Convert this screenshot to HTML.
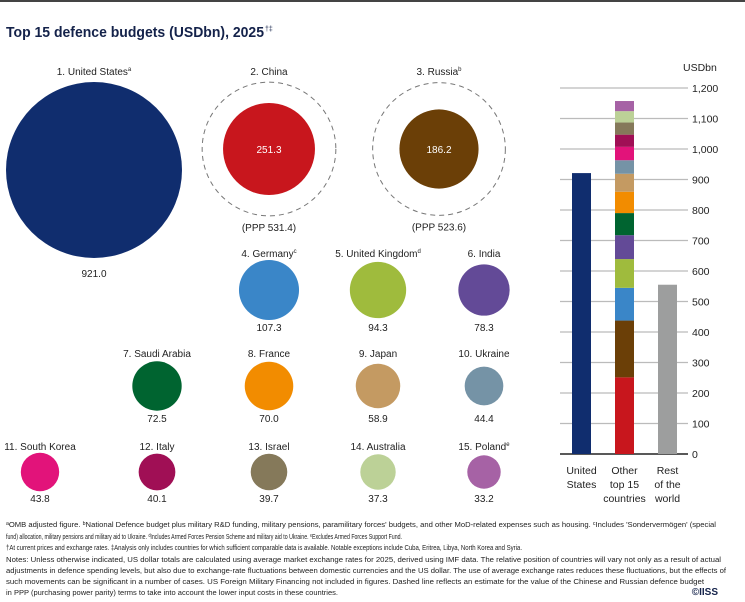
<!DOCTYPE html>
<html><head><meta charset="utf-8"><style>
body{margin:0;background:#fff;}
svg{display:block;font-family:"Liberation Sans",sans-serif;}
.lbl{font-size:10px;fill:#222;text-anchor:middle;}
.val{font-size:10px;fill:#222;text-anchor:middle;}
.note{font-size:7.6px;fill:#222;}
</style></head><body>
<svg id="chart" width="745" height="602" viewBox="0 0 745 602">
<rect x="0" y="0" width="745" height="2" fill="#444"/>
<text x="6" y="37" font-weight="bold" font-size="15" fill="#14224a" textLength="258" lengthAdjust="spacingAndGlyphs">Top 15 defence budgets (USDbn), 2025</text>
<text x="265" y="31" font-size="7" fill="#14224a">†‡</text>
<g id="bubbles"></g>
<g id="bars"></g>
<g>
<text class="note" x="6" y="527" textLength="710" lengthAdjust="spacingAndGlyphs">ᵃOMB adjusted figure. ᵇNational Defence budget plus military R&amp;D funding, military pensions, paramilitary forces' budgets, and other MoD-related expenses such as housing. ᶜIncludes 'Sondervermögen' (special</text>
<text class="note" x="6" y="539" textLength="396" lengthAdjust="spacingAndGlyphs">fund) allocation, military pensions and military aid to Ukraine. ᵈIncludes Armed Forces Pension Scheme and military aid to Ukraine. ᵉExcludes Armed Forces Support Fund.</text>
<text class="note" x="6" y="550" textLength="516" lengthAdjust="spacingAndGlyphs">†At current prices and exchange rates. ‡Analysis only includes countries for which sufficient comparable data is available. Notable exceptions include Cuba, Eritrea, Libya, North Korea and Syria.</text>
<text class="note" x="6" y="562" textLength="715" lengthAdjust="spacingAndGlyphs">Notes: Unless otherwise indicated, US dollar totals are calculated using average market exchange rates for 2025, derived using IMF data. The relative position of countries will vary not only as a result of actual</text>
<text class="note" x="6" y="573" textLength="720" lengthAdjust="spacingAndGlyphs">adjustments in defence spending levels, but also due to exchange-rate fluctuations between domestic currencies and the US dollar. The use of average exchange rates reduces these fluctuations, but the effects of</text>
<text class="note" x="6" y="584" textLength="698" lengthAdjust="spacingAndGlyphs">such movements can be significant in a number of cases. US Foreign Military Financing not included in figures. Dashed line reflects an estimate for the value of the Chinese and Russian defence budget</text>
<text class="note" x="6" y="595" textLength="332" lengthAdjust="spacingAndGlyphs">in PPP (purchasing power parity) terms to take into account the lower input costs in these countries.</text>
<text x="718" y="595" font-weight="bold" font-size="10" fill="#14224a" text-anchor="end">©IISS</text>
</g>
</svg>
<script>
const countries=["1. United States","2. China","3. Russia","4. Germany","5. United Kingdom","6. India","7. Saudi Arabia","8. France","9. Japan","10. Ukraine","11. South Korea","12. Italy","13. Israel","14. Australia","15. Poland"];
const sups=["a","","b","c","d","","","","","","","","","","e"];
const budgets=[921.0,251.3,186.2,107.3,94.3,78.3,72.5,70.0,58.9,44.4,43.8,40.1,39.7,37.3,33.2];
const pppValues=[null,531.4,523.6,null,null,null,null,null,null,null,null,null,null,null,null];
const colors=["#102d6e","#c8161d","#6b3f07","#3a86c8","#9fbb3d","#634a97","#006430","#f28c00","#c49a62","#7593a6","#e2137a","#a00f55","#85795a","#bcd197","#a662a5"];
const restOfWorld=555;
const ticks=[0,100,200,300,400,500,600,700,800,900,1000,1100,1200];

const NS="http://www.w3.org/2000/svg";
function mk(tag,attrs,parent){const e=document.createElementNS(NS,tag);for(const k in attrs)e.setAttribute(k,attrs[k]);parent.appendChild(e);return e;}
// slot layout
const cx=[94,269,439,269,378,484,157,269,378,484,40,157,269,378,484];
const row=[0,0,0,1,1,1,2,2,2,2,3,3,3,3,3];
const rowCY=[149,290,386,472];
const rowLabY=[75,257,357,450];
const rowValY=[277,331,422,502];
const rScale=v=>88*Math.sqrt(v/921);
const B=document.getElementById('bubbles');
budgets.forEach((v,i)=>{
  const r=rScale(v);
  const cy=i==0?170:rowCY[row[i]];
  const labY=rowLabY[row[i]];
  const inside=(i==1||i==2);
  const valY=inside?cy+4:rowValY[row[i]];
  if(pppValues[i]!=null){
    const pr=rScale(pppValues[i]);
    const d=mk('circle',{cx:cx[i],cy:cy,r:pr,fill:'none',stroke:'#777','stroke-width':1,'stroke-dasharray':'5,4'},B);
    
    
    const pt=mk('text',{x:cx[i],y:cy+pr+15,class:'val'},B);
    pt.textContent='(PPP '+pppValues[i].toFixed(1)+')';
    
    
  }
  const c=mk('circle',{cx:cx[i],cy:cy,r:r,fill:colors[i]},B);
  
  
  const t=mk('text',{x:cx[i],y:labY,class:'lbl'},B);
  t.textContent=countries[i];
  if(sups[i]){const s=mk('tspan',{'font-size':6,dy:-4},t);s.textContent=sups[i];}
  
  
  const vt=mk('text',{x:cx[i],y:valY,class:'val'},B);
  if(inside)vt.setAttribute('style','fill:#fff');
  vt.textContent=v.toFixed(1);
  
  
});
// bar chart
const G=document.getElementById('bars');
const y0=454,yTop=88,maxV=1200;
const y=v=>y0-(v/maxV)*(y0-yTop);
const xs=[572,615,658],bw=19;
ticks.forEach(tk=>{
  const l=mk('line',{x1:560,x2:688,y1:y(tk),y2:y(tk),stroke:tk==0?'#222':'#bbb','stroke-width':tk==0?1.5:1.2},G);
  
  
  const t=mk('text',{x:692,y:y(tk)+4,'font-size':10.5,fill:'#222'},G);
  t.textContent=tk.toLocaleString('en-US');
  
  
});
const ut=mk('text',{x:683,y:71,'font-size':10.5,fill:'#222'},G);ut.textContent='USDbn';


let r=mk('rect',{x:xs[0],y:y(budgets[0]),width:bw,height:y0-y(budgets[0]),fill:colors[0]},G);


let acc=0;
for(let i=1;i<budgets.length;i++){
  const s=mk('rect',{x:xs[1],y:y(acc+budgets[i]),width:bw,height:y(acc)-y(acc+budgets[i]),fill:colors[i]},G);
  
  
  acc+=budgets[i];
}
r=mk('rect',{x:xs[2],y:y(restOfWorld),width:bw,height:y0-y(restOfWorld),fill:'#9d9e9e'},G);


const catLines=[["United","States"],["Other","top 15","countries"],["Rest","of the","world"]];
catLines.forEach((ls,i)=>{
  const t=mk('text',{x:xs[i]+bw/2,y:474,'font-size':10.5,fill:'#222','text-anchor':'middle'},G);
  ls.forEach((s,j)=>{const sp=mk('tspan',{x:xs[i]+bw/2,dy:j?14:0},t);sp.textContent=s;});
  
  
});
</script>
</body></html>
